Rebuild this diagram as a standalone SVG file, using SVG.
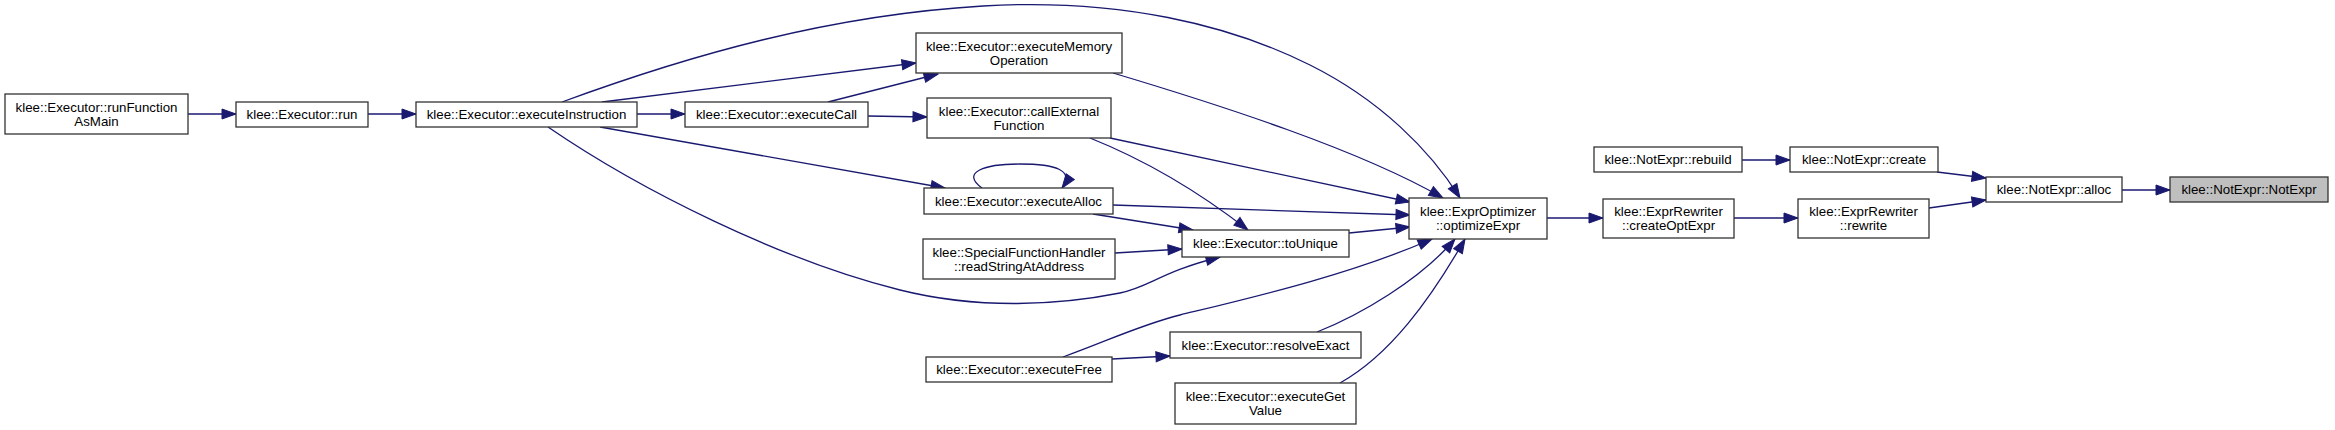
<svg xmlns="http://www.w3.org/2000/svg" width="2335" height="430" viewBox="0 0 2335 430">
<defs>
<style>
.n rect{fill:#ffffff;stroke:#333333;stroke-width:1.3}
.n.h rect{fill:#bfbfbf}
.n text{font-family:"Liberation Sans",Arial,sans-serif;font-size:13.3px;fill:#000;text-anchor:middle}
.e path{fill:none;stroke:#191970;stroke-width:1.3;marker-end:url(#ah)}
</style>
<marker id="ah" markerUnits="userSpaceOnUse" markerWidth="14" markerHeight="10" refX="14" refY="5" orient="auto" overflow="visible">
<path d="M0,0 L14,5 L0,10 z" fill="#191970" stroke="#191970" stroke-width="1"/>
</marker>
</defs>
<rect width="2335" height="430" fill="#ffffff"/>
<g id="edges" class="e">
<path d="M188,114 L236,114"/>
<path d="M368,114 L416,114"/>
<path d="M637,114 L685,114"/>
<path d="M562,102 C690,55 830,15 983,6 C1120,-2 1230,25 1310,65 C1380,100 1430,150 1460,198"/>
<path d="M602,102 L916,63"/>
<path d="M828,102 L938,74"/>
<path d="M868,116 L927,117"/>
<path d="M600,127 L945,188"/>
<path d="M548,127 C640,190 780,260 900,290 C980,310 1060,305 1120,293 C1150,287 1160,272 1220,257"/>
<path d="M982,188 C960,172 985,164 1020,164 C1055,164 1075,170 1062,188"/>
<path d="M1113,205 L1410,215"/>
<path d="M1093,214 L1193,230"/>
<path d="M1110,138 L1410,202"/>
<path d="M1090,138 C1140,158 1190,185 1248,230"/>
<path d="M1113,73 C1220,105 1360,150 1443,198"/>
<path d="M1349,233 L1410,227"/>
<path d="M1115,253 L1182,249"/>
<path d="M1112,359 L1170,356"/>
<path d="M1063,357 C1110,340 1140,325 1180,315 C1250,298 1350,275 1432,239"/>
<path d="M1317,332 C1360,315 1420,280 1455,239"/>
<path d="M1340,383 C1390,355 1430,300 1465,239"/>
<path d="M1547,218 L1603,218"/>
<path d="M1734,218 L1798,218"/>
<path d="M1742,160 L1790,160"/>
<path d="M1937,172 L1986,178"/>
<path d="M1929,208 L1986,200"/>
<path d="M2122,190 L2170,190"/>
</g>
<g id="runFunctionAsMain" class="n"><rect x="5" y="94" width="183" height="40"/><text x="96.5" y="111.5">klee::Executor::runFunction</text><text x="96.5" y="125.5">AsMain</text></g>
<g id="run" class="n"><rect x="236" y="102" width="132" height="25"/><text x="302" y="119">klee::Executor::run</text></g>
<g id="executeInstruction" class="n"><rect x="416" y="102" width="221" height="25"/><text x="526.5" y="119">klee::Executor::executeInstruction</text></g>
<g id="executeCall" class="n"><rect x="685" y="102" width="183" height="25"/><text x="776.5" y="119">klee::Executor::executeCall</text></g>
<g id="executeMemoryOperation" class="n"><rect x="916" y="33" width="206" height="40"/><text x="1019" y="50.5">klee::Executor::executeMemory</text><text x="1019" y="64.5">Operation</text></g>
<g id="callExternalFunction" class="n"><rect x="927" y="98" width="184" height="40"/><text x="1019" y="115.5">klee::Executor::callExternal</text><text x="1019" y="129.5">Function</text></g>
<g id="executeAlloc" class="n"><rect x="924" y="188" width="189" height="26"/><text x="1018.5" y="205.5">klee::Executor::executeAlloc</text></g>
<g id="readStringAtAddress" class="n"><rect x="923" y="239" width="192" height="40"/><text x="1019" y="256.5">klee::SpecialFunctionHandler</text><text x="1019" y="270.5">::readStringAtAddress</text></g>
<g id="toUnique" class="n"><rect x="1182" y="230" width="167" height="27"/><text x="1265.5" y="248">klee::Executor::toUnique</text></g>
<g id="executeFree" class="n"><rect x="926" y="357" width="186" height="25"/><text x="1019" y="374">klee::Executor::executeFree</text></g>
<g id="resolveExact" class="n"><rect x="1170" y="332" width="191" height="26"/><text x="1265.5" y="349.5">klee::Executor::resolveExact</text></g>
<g id="executeGetValue" class="n"><rect x="1175" y="383" width="181" height="41"/><text x="1265.5" y="400.5">klee::Executor::executeGet</text><text x="1265.5" y="414.5">Value</text></g>
<g id="optimizeExpr" class="n"><rect x="1409" y="198" width="138" height="41"/><text x="1478" y="215.5">klee::ExprOptimizer</text><text x="1478" y="229.5">::optimizeExpr</text></g>
<g id="createOptExpr" class="n"><rect x="1603" y="199" width="131" height="39"/><text x="1668.5" y="215.5">klee::ExprRewriter</text><text x="1668.5" y="229.5">::createOptExpr</text></g>
<g id="rewrite" class="n"><rect x="1798" y="199" width="131" height="39"/><text x="1863.5" y="215.5">klee::ExprRewriter</text><text x="1863.5" y="229.5">::rewrite</text></g>
<g id="rebuild" class="n"><rect x="1594" y="147" width="148" height="25"/><text x="1668" y="164">klee::NotExpr::rebuild</text></g>
<g id="create" class="n"><rect x="1790" y="147" width="148" height="25"/><text x="1864" y="164">klee::NotExpr::create</text></g>
<g id="alloc" class="n"><rect x="1986" y="177" width="136" height="25"/><text x="2054" y="194">klee::NotExpr::alloc</text></g>
<g id="NotExpr" class="n h"><rect x="2170" y="177" width="158" height="25"/><text x="2249" y="194">klee::NotExpr::NotExpr</text></g>
</svg>
